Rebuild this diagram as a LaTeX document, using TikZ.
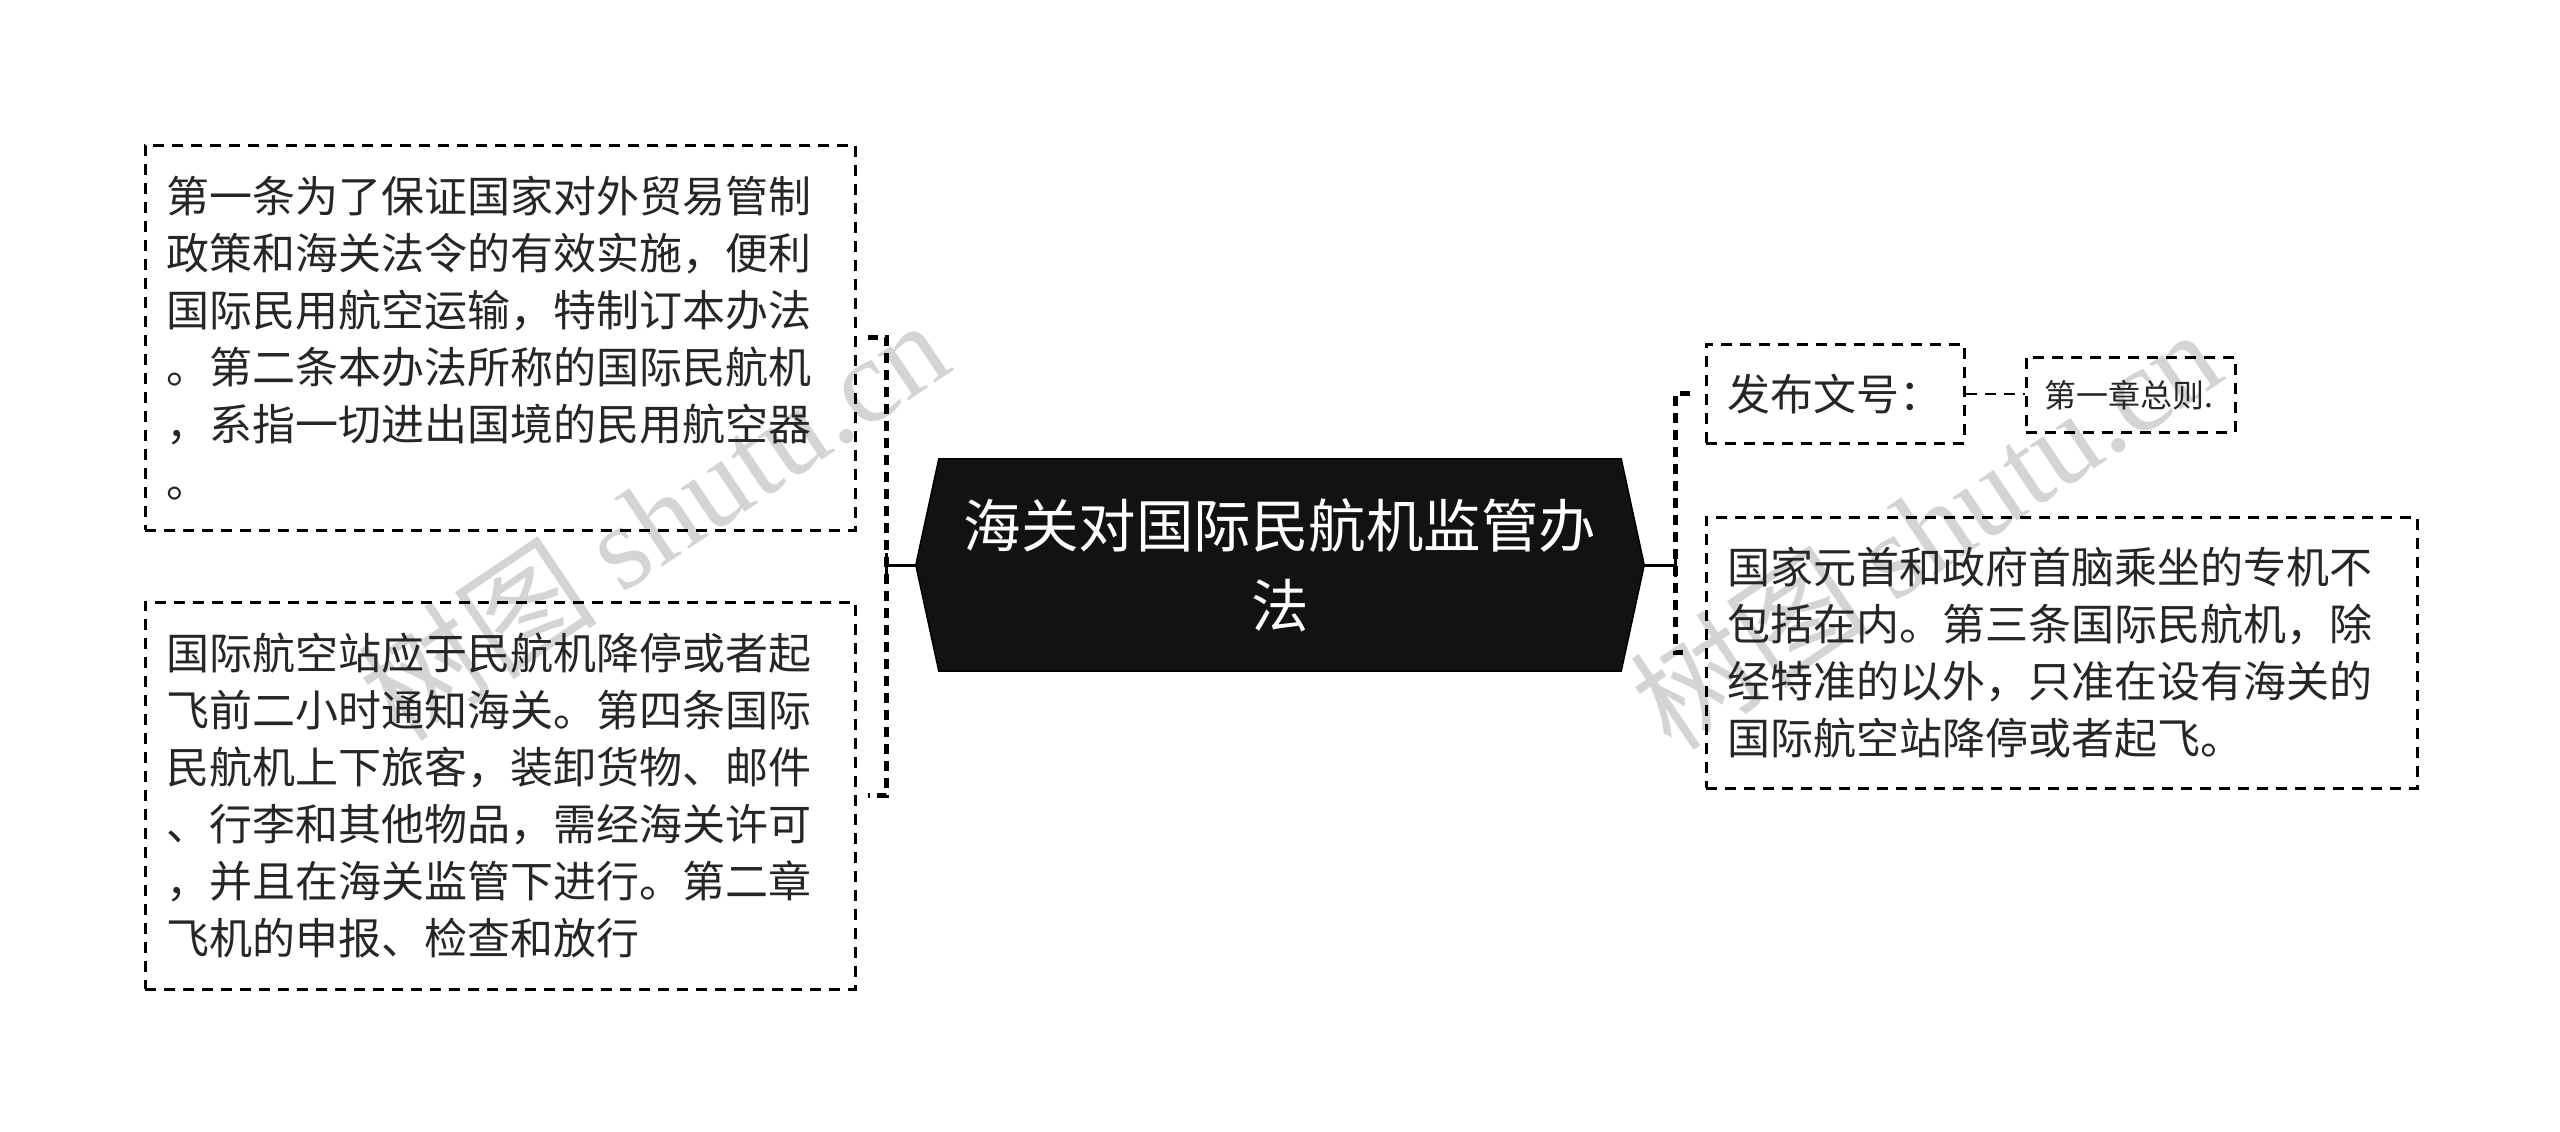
\documentclass[tikz,border=0pt]{standalone}
\usepackage{fontspec}
\setmainfont{Noto Sans CJK SC}
\newfontfamily\wmserif{Liberation Serif}
\definecolor{txt}{HTML}{262626}
\definecolor{wmgray}{HTML}{D4D4D4}
\begin{document}
\begin{tikzpicture}[x=1pt,y=-1pt,
  box/.style={draw=black, line width=2.5pt, dash pattern=on 11pt off 8pt,
    inner xsep=21pt, inner ysep=0pt, text width=668pt, align=left,
    anchor=north west, text=txt, font=\fontsize{43}{57}\selectfont},
  brk/.style={line width=5pt, dash pattern=on 10pt off 7pt},
  link/.style={line width=3pt},
  thinlink/.style={line width=2.5pt, dash pattern=on 11pt off 8pt},
  wm/.style={text=wmgray, font=\fontsize{120}{120}\selectfont, inner sep=0pt}]
\useasboundingbox (0,0) rectangle (2560,1132);
\fill[white] (0,0) rectangle (2560,1132);

% watermarks
\node[wm, rotate=34] (wm1) at (653,519) {树图 {\wmserif shutu.cn}};
\node[wm, rotate=34] (wm2) at (1925,528) {树图 {\wmserif shutu.cn}};

% root
\node[minimum width=728pt, minimum height=212pt, inner sep=0pt] (root) at (1280,565) {};
\fill[fill=black!93, draw=black, line width=1.5pt]
  (root.west) -- ([xshift=23pt]root.north west) -- ([xshift=-23pt]root.north east)
  -- (root.east) -- ([xshift=-23pt]root.south east) -- ([xshift=23pt]root.south west) -- cycle;
\node[text=white, align=center, inner sep=0pt, font=\fontsize{57.5}{80}\selectfont] (title) at (root.center) {海关对国际民航机监管办\\法};

% left boxes
\node[box, minimum height=385pt] (lt) at (144,144) {第一条为了保证国家对外贸易管制\\
政策和海关法令的有效实施，便利\\
国际民用航空运输，特制订本办法\\
。第二条本办法所称的国际民航机\\
，系指一切进出国境的民用航空器\\
。};
\node[box, minimum height=387pt] (lb) at (144,601) {国际航空站应于民航机降停或者起\\
飞前二小时通知海关。第四条国际\\
民航机上下旅客，装卸货物、邮件\\
、行李和其他物品，需经海关许可\\
，并且在海关监管下进行。第二章\\
飞机的申报、检查和放行};

% right boxes
\node[box, text width=216pt, minimum height=99pt] (fw) at (1705,343) {发布文号：};
\node[box, text width=173pt, inner xsep=18pt, minimum height=75pt, font=\fontsize{32}{40}\selectfont] (zz) at (2025,356) {第一章总则.};
\node[box, text width=669pt, minimum height=271pt] (rb) at (1705,516) {国家元首和政府首脑乘坐的专机不\\
包括在内。第三条国际民航机，除\\
经特准的以外，只准在设有海关的\\
国际航空站降停或者起飞。};

% connectors left
\coordinate (lj) at (886,565);
\draw[link] (root.west) -- (lj);
\draw[brk] ([xshift=11pt]lt.east) -| (lj) |- ([xshift=11pt]lb.east);
\draw[link] ([yshift=12pt]lj) -- ([yshift=-12pt]lj);

% connectors right
\coordinate (rj) at (1675,565);
\draw[link] (root.east) -- (rj);
\draw[brk] ([xshift=-15pt]fw.west) -| (rj) |- ([xshift=-15pt]rb.west);
\draw[link] ([yshift=12pt]rj) -- ([yshift=-12pt]rj);
\draw[thinlink] (fw.east) -- (fw.east -| zz.west);
\end{tikzpicture}
\end{document}
